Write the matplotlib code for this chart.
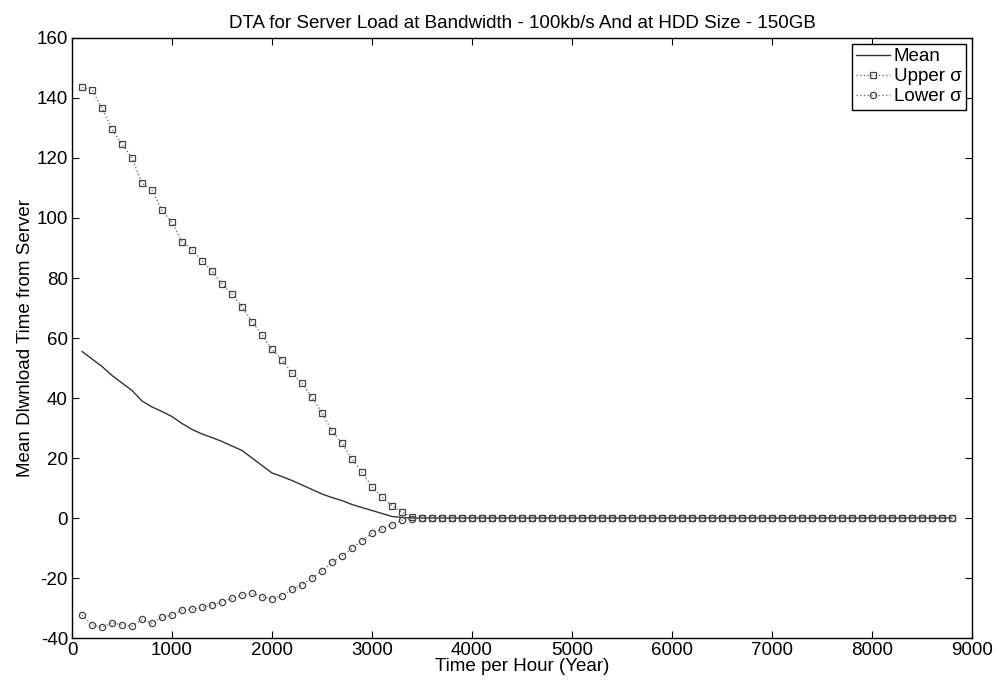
import matplotlib
matplotlib.use("Agg")
import matplotlib.pyplot as plt
import numpy as np

plt.rcParams['font.family'] = ['Liberation Sans', 'DejaVu Sans']
plt.rcParams['axes.unicode_minus'] = False

# time axis: one sample every 100 units
hours = np.arange(100, 8900, 100)

# values (100 .. 3400), then flat at zero
mean_head = [55.5, 53.0, 50.5, 47.5, 45.0, 42.5, 39.0, 37.0, 35.5, 33.8,
             31.5, 29.5, 28.0, 26.8, 25.5, 24.0, 22.5, 20.0, 17.5, 15.0,
             13.8, 12.5, 11.0, 9.5, 8.0, 6.8, 5.8, 4.5, 3.5, 2.5,
             1.5, 0.5, 0.2, 0.0]
upper_head = [143.5, 142.8, 136.5, 129.5, 124.5, 120.0, 111.5, 109.3, 102.5, 98.5,
              92.0, 89.5, 85.7, 82.3, 78.0, 74.6, 70.4, 65.4, 61.0, 56.2,
              52.7, 48.2, 44.9, 40.2, 35.1, 29.0, 24.9, 19.7, 15.2, 10.4,
              6.9, 4.1, 1.9, 0.3]
lower_head = [-32.3, -35.7, -36.4, -34.9, -35.7, -36.0, -33.8, -35.1, -33.1, -32.3,
              -30.7, -30.4, -29.8, -29.0, -27.9, -26.8, -25.7, -25.1, -26.2, -27.0,
              -25.9, -23.8, -22.3, -19.9, -17.7, -14.8, -12.6, -10.1, -7.6, -5.1,
              -3.7, -2.3, -0.7, -0.2]
tail = [0.0] * 54

mean_vals = mean_head + tail
upper_vals = upper_head + tail
lower_vals = lower_head + tail

fig = plt.figure(figsize=(10.01, 6.87), dpi=100)
ax = fig.add_axes([0.072, 0.0713, 0.899, 0.8734])

ax.plot(hours, mean_vals, '-', color='#333333', lw=1.0, label='Mean')
ax.plot(hours, upper_vals, ':', color='#777777', lw=1.0, marker='s', ms=4.5,
        mfc='none', mec='#444444', mew=0.9, label='Upper σ')
ax.plot(hours, lower_vals, ':', color='#777777', lw=1.0, marker='o', ms=4.5,
        mfc='none', mec='#444444', mew=0.9, label='Lower σ')

ax.set_xlim(0, 9000)
ax.set_ylim(-40, 160)
ax.set_xticks(range(0, 9001, 1000))
ax.set_yticks(range(-40, 161, 20))
ax.tick_params(direction='in', top=True, right=True, labelsize=13.5, length=5, pad=3)
for s in ax.spines.values():
    s.set_linewidth(1.0)

ax.set_title('DTA for Server Load at Bandwidth - 100kb/s And at HDD Size - 150GB',
             fontsize=13.5, pad=7)
ax.set_xlabel('Time per Hour (Year)', fontsize=13.5, labelpad=-1)
ax.set_ylabel('Mean Dlwnload Time from Server', fontsize=13.5, labelpad=2)

leg = ax.legend(loc='upper right', fontsize=13.5, fancybox=False, framealpha=1,
                edgecolor='black', handlelength=1.8, borderaxespad=0.3,
                handletextpad=0.2, labelspacing=0.15, borderpad=0.25)
leg.get_frame().set_linewidth(1.0)

fig.savefig('out.png', dpi=100)
